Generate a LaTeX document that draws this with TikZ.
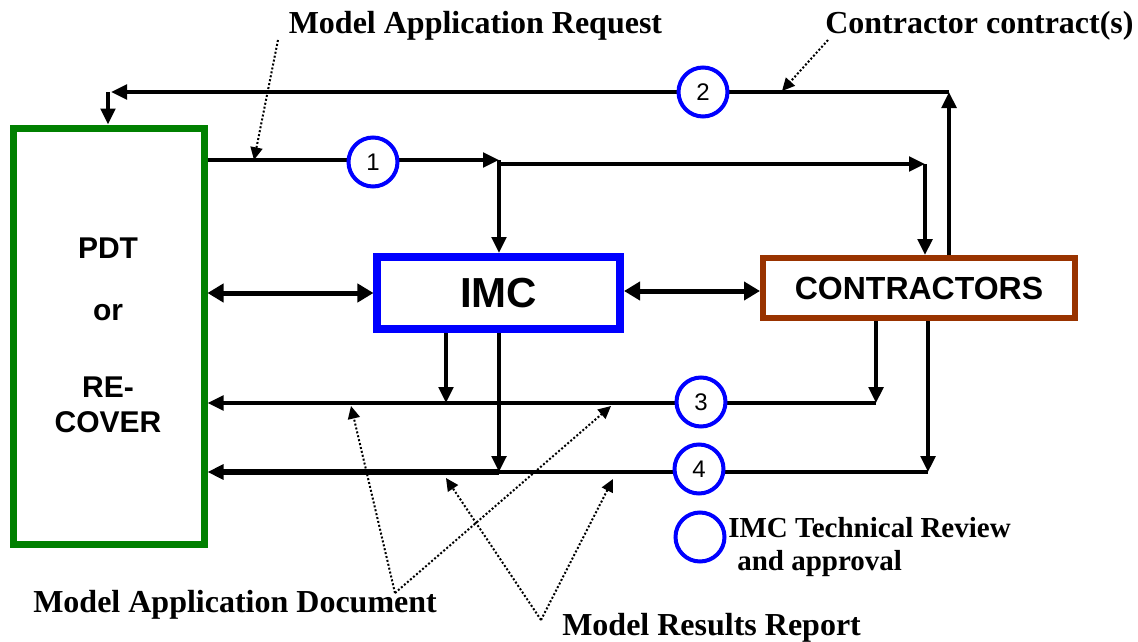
\documentclass[tikz,border=0pt]{standalone}
\usepackage{fontspec}
\setmainfont{Liberation Serif}
\newfontfamily\arialfont{Liberation Sans}
\usetikzlibrary{arrows.meta,calc}
\definecolor{pdtgreen}{RGB}{0,128,0}
\definecolor{conbrown}{RGB}{153,51,0}
\begin{document}
\begin{tikzpicture}[x=0.75pt,y=-0.75pt,
  arr/.style={line width=2.6pt,-{Triangle[length=12pt,width=11pt]}},
  plain/.style={line width=2.6pt},
  dbl/.style={line width=3.75pt,{Triangle[length=12pt,width=13.5pt]}-{Triangle[length=12pt,width=13.5pt]}},
  dotarr/.style={line width=1.5pt,dash pattern=on 1.5pt off 1.5pt,-{Triangle[length=9.5pt,width=9pt]}},
  num/.style={circle,draw=blue,line width=3pt,fill=white,minimum size=36.75pt,inner sep=0pt,font=\arialfont\fontsize{18}{20}\selectfont},
  boxtxt/.style={font=\arialfont\bfseries\fontsize{22.5}{26}\selectfont,anchor=base,inner sep=0pt},
  lbl/.style={font=\bfseries\fontsize{24}{28}\selectfont,anchor=base west,inner sep=0pt},
  lgd/.style={font=\bfseries\fontsize{21.75}{25}\selectfont,anchor=base west,inner sep=0pt}
]
\fill[white] (0,0) rectangle (1138,642);
\useasboundingbox (0,0) rectangle (1138,642);

% boxes
\node[draw=pdtgreen,line width=5.25pt,minimum width=143.25pt,minimum height=312pt,inner sep=0pt] (pdt) at (108.5,336) {};
\node[draw=blue,line width=6pt,minimum width=181.9pt,minimum height=54pt,inner sep=0pt,
      font=\arialfont\bfseries\fontsize{31.5}{34}\selectfont] (imc) at (498.75,293) {IMC};
\node[draw=conbrown,line width=4.5pt,minimum width=234pt,minimum height=45pt,inner sep=0pt,
      font=\arialfont\bfseries\fontsize{24}{28}\selectfont] (con) at (919,288) {CONTRACTORS};

% PDT text
\node[boxtxt] (pdtA) at (108,258) {PDT};
\node[boxtxt] (pdtB) at (108,320) {or};
\node[boxtxt] (pdtC) at (108,397) {RE-};
\node[boxtxt] (pdtD) at (108,432) {COVER};

% line 2 (top)
\coordinate (t2r) at (949,92);
\coordinate (t2l) at (108,92);
\draw[arr] (con.north -| t2r) -- (t2r);
\draw[arr] (t2r) -- ($(t2l)+(3,0)$);
\draw[arr] (t2l) -- (pdt.north -| t2l);

% line 1
\coordinate (j1) at (499,160);
\coordinate (j1b) at (499,164);
\coordinate (t1r) at (925,164);
\draw[arr] (pdt.east |- j1) -- (j1);
\draw[arr] (j1) -- (imc.north -| j1);
\draw[arr] (j1b) -- (t1r);
\draw[arr] (t1r) -- (con.north -| t1r);

% double arrows
\draw[dbl] (pdt.east |- imc.west) -- (imc.west);
\draw[dbl] ($(imc.east)+(0,-2)$) -- ($(con.west |- imc.east)+(0,-2)$);

% line 3
\coordinate (t3r) at (876,403);
\coordinate (j3) at (446,403);
\draw[arr] (con.south -| t3r) -- (t3r);
\draw[arr] (t3r) -- (pdt.east |- t3r);
\draw[arr] (imc.south -| j3) -- (j3);

% line 4
\coordinate (t4r) at (928,472);
\coordinate (j4) at (499,472);
\draw[arr] (con.south -| t4r) -- (t4r);
\draw[plain] (t4r) -- (j4);
\draw[arr,line width=4.5pt] (j4) -- (pdt.east |- j4);
\draw[arr] (imc.south -| j4) -- (j4);

% review circles
\node[num] (n1) at (373,162) {1};
\node[num] (n2) at (703,92) {2};
\node[num] (n3) at (701,402) {3};
\node[num] (n4) at (699,469) {4};
\node[num] (n0) at (700,537) {};

% labels
\node[lbl] (lmar) at (288.5,34) {Model Application Request};
\node[lbl] (lcc) at (825,34) {Contractor contract(s)};
\node[lbl] (lmad) at (33,612) {Model Application Document};
\node[lbl] (lmrr) at (562,635) {Model Results Report};
\node[lgd] (lg1) at (728,537) {IMC Technical Review};
\node[lgd] (lg2) at (737,570) {and approval};

% dotted pointers
\coordinate (d1s) at (278,40);
\coordinate (d1e) at (254,160);
\draw[dotarr] (d1s) -- (d1e);
\coordinate (d2s) at (828,40);
\coordinate (d2e) at (782,91);
\draw[dotarr] (d2s) -- (d2e);
\coordinate (d3s) at (395,593);
\coordinate (d3a) at (351,406);
\coordinate (d3b) at (611,406);
\draw[dotarr] (d3s) -- (d3a);
\draw[dotarr] (d3s) -- (d3b);
\coordinate (d4s) at (541,620);
\coordinate (d4a) at (446,478);
\coordinate (d4b) at (613,479);
\draw[dotarr] (d4s) -- (d4a);
\draw[dotarr] (d4s) -- (d4b);
\end{tikzpicture}
\end{document}
